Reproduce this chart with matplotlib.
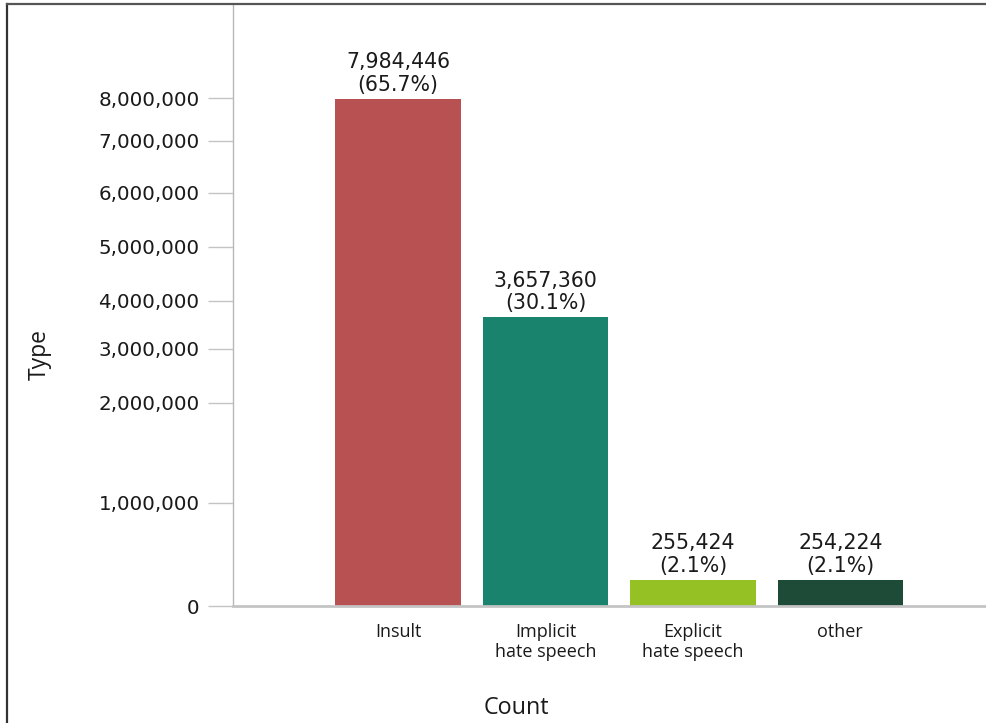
import numpy as np
import matplotlib
matplotlib.use('Agg')
import matplotlib.pyplot as plt
from matplotlib.lines import Line2D

# counts per type
types = ['Insult', 'Implicit\nhate speech', 'Explicit\nhate speech', 'other']
counts = [7984446, 3657360, 255424, 254224]
shares = [65.7, 30.1, 2.1, 2.1]
colors = ['#B85252', '#1A836E', '#95C125', '#1E4B38']
yticks = [0, 1000000, 2000000, 3000000, 4000000, 5000000, 6000000, 7000000, 8000000]

# uneven axis: tick values and their height above the baseline (px)
scale_vals = np.array(yticks + [10200000], dtype=float)
scale_pos = np.array([0, 103, 203, 257, 305, 359, 413, 465, 508, 602], dtype=float)

def fwd(v):
    return np.interp(v, scale_vals, scale_pos)

def inv(p):
    return np.interp(p, scale_pos, scale_vals)

W, H = 987, 723
fig = plt.figure(figsize=(W / 100, H / 100), dpi=100)
ax = fig.add_axes([233 / W, (H - 606) / H, (987 - 233) / W, (606 - 4) / H])
ax.set_yscale('function', functions=(fwd, inv))

x = np.arange(len(types))
bars = ax.bar(x, counts, width=0.85, color=colors, zorder=2)
ax.set_xlim(-1.12, 3.995)
ax.set_ylim(0, 10200000)

for xi, c, s in zip(x, counts, shares):
    ax.annotate('{:,}\n({}%)'.format(c, s), xy=(xi, c), xytext=(0, 3),
                textcoords='offset points', ha='center', va='bottom',
                fontsize=14.8, linespacing=1.15, color='#1a1a1a',
                family='DejaVu Sans')

ax.set_yticks(yticks)
ax.set_yticklabels(['{:,}'.format(t) for t in yticks], fontsize=14.3,
                   family='DejaVu Sans', color='#1a1a1a')
ax.yaxis.set_minor_locator(matplotlib.ticker.NullLocator())
ax.tick_params(axis='y', length=18, width=1, color='#c4c4c4', pad=6)

ax.set_xticks(x)
ax.set_xticklabels(types, fontsize=13, family='Open Sans', linespacing=1.2,
                   color='#1a1a1a')
ax.tick_params(axis='x', length=0, pad=12)

for side in ['top', 'right']:
    ax.spines[side].set_visible(False)
ax.spines['left'].set_color('#b8b8b8')
ax.spines['left'].set_linewidth(1)
ax.spines['bottom'].set_color('#c4c4c4')
ax.spines['bottom'].set_linewidth(2)
ax.spines['bottom'].set_zorder(3)

fig.text(40 / W, 1 - 355 / H, 'Type', rotation=90, ha='center', va='center',
         fontsize=16.5, family='Open Sans', color='#1a1a1a')
fig.text(516 / W, 1 - 708 / H, 'Count', ha='center', va='center',
         fontsize=16.8, family='Open Sans', color='#1a1a1a')

# frame line on the left and top edge
fig.add_artist(Line2D([7.5 / W, 7.5 / W], [0, 1 - 3.5 / H], transform=fig.transFigure,
                      color='#333333', lw=1.6))
fig.add_artist(Line2D([7.5 / W, 1], [1 - 3.5 / H, 1 - 3.5 / H], transform=fig.transFigure,
                      color='#555555', lw=1.6))

plt.savefig('out.png', dpi=100)
